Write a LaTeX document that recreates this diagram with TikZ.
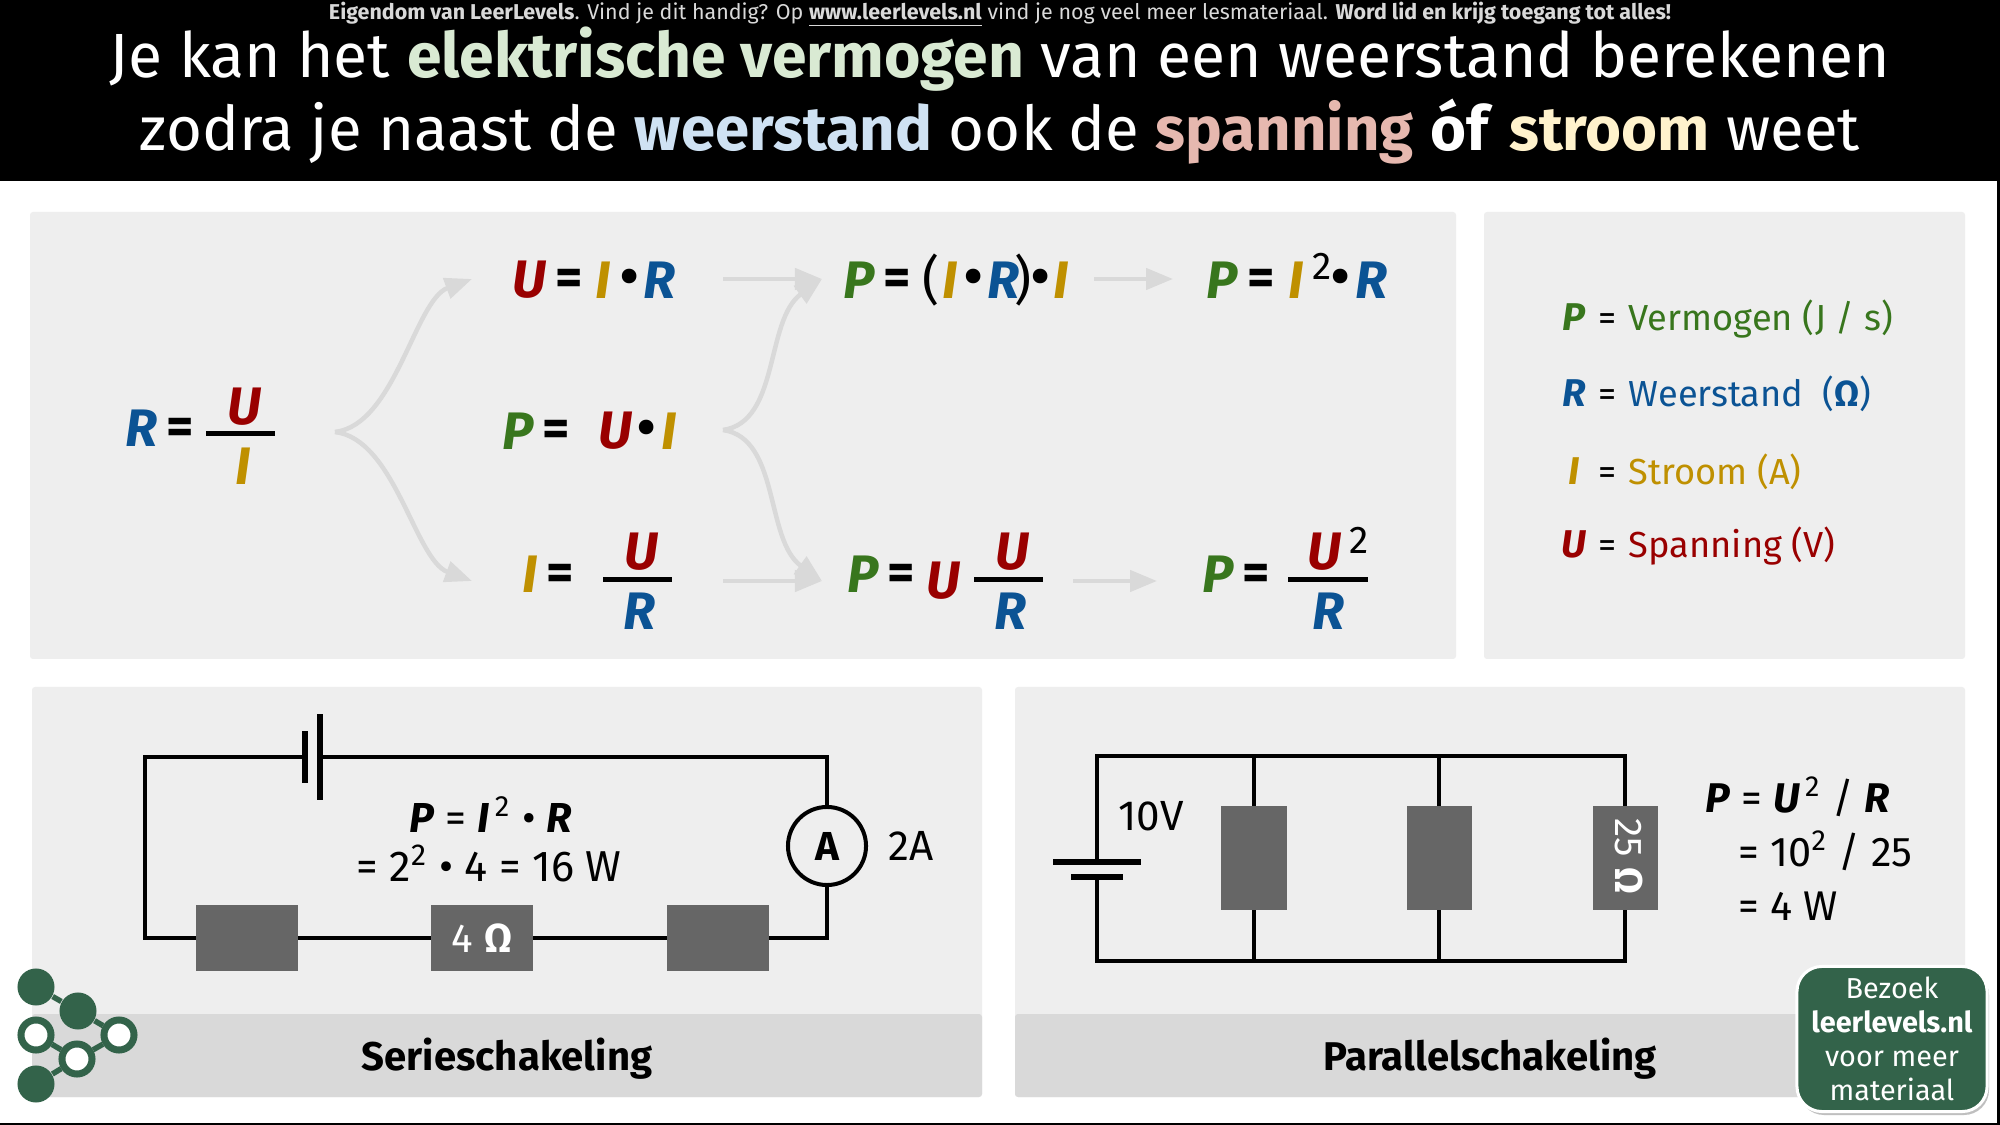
\documentclass[tikz,border=0pt]{standalone}
\usepackage{fontspec}
\setmainfont{Fira Sans}
\usetikzlibrary{arrows.meta}
\definecolor{vermogen}{HTML}{38761D}
\definecolor{weerstand}{HTML}{0B5394}
\definecolor{stroom}{HTML}{BF9000}
\definecolor{spanning}{HTML}{990000}
\definecolor{paneel}{HTML}{EEEEEE}
\definecolor{band}{HTML}{D9D9D9}
\definecolor{blok}{HTML}{666666}
\definecolor{logo}{HTML}{33634A}
\newcommand{\varP}{\textcolor{vermogen}{\textbf{\textit{P}}}}
\newcommand{\varR}{\textcolor{weerstand}{\textbf{\textit{R}}}}
\newcommand{\varI}{\textcolor{stroom}{\textbf{\textit{I}}}}
\newcommand{\varU}{\textcolor{spanning}{\textbf{\textit{U}}}}
\newcommand{\pxfont}[1]{\fontsize{#1}{#1}\selectfont}
\begin{document}
\begin{tikzpicture}[
    x=0.01cm, y=-0.01cm,
    panel_style/.style={fill=paneel, rounded corners=0.03cm},
    band_style/.style={fill=band, rounded corners=0.03cm},
    eq_style/.style={inner sep=0, font=\pxfont{15}\bfseries},
    exp_style/.style={inner sep=0, font=\pxfont{11}},
    bar_style/.style={draw=black, line width=0.05cm},
    arrow_style/.style={draw=band, line width=0.045cm, -{Triangle[length=0.27cm,width=0.21cm]}},
    wire_style/.style={draw=black, line width=0.04cm},
    res_style/.style={fill=blok, inner sep=0, outer sep=0, text=white, font=\pxfont{11.5}},
    plate_style/.style={fill=black, inner sep=0, outer sep=0},
    calc_style/.style={inner sep=0, anchor=base west, font=\pxfont{11.8}},
    legend_style/.style={inner sep=0, anchor=base west, font=\pxfont{10.3}},
    caption_style/.style={inner sep=0, anchor=base, font=\pxfont{11.4}\bfseries},
    dot_full/.style={circle, fill=logo, minimum size=0.37cm, inner sep=0},
    dot_open/.style={circle, draw=logo, fill=white, line width=0.07cm, minimum size=0.30cm, inner sep=0},
    link_style/.style={draw=logo, line width=0.055cm}
  ]
  \useasboundingbox (0,0) rectangle (2000,1125);
  \fill[white] (0,0) rectangle (2000,1125);

  % 1. header
  \fill[black] (0,0) rectangle (2000,181);
  \fill[black] (1997,181) rectangle (2000,1125);
  \fill[black] (0,1123) rectangle (2000,1125);
  \node[inner sep=0, anchor=base, text=band, font=\pxfont{6.1}] (kop) at (1000,20) {\textbf{Eigendom van LeerLevels}. Vind je dit handig? Op \textbf{\underline{www.leerlevels.nl}} vind je nog veel meer lesmateriaal. \textbf{Word lid en krijg toegang tot alles!}};
  \node[inner sep=0, anchor=base, text=white, font=\pxfont{17.75}] (titelA) at (1000,78) {Je kan het \textbf{\textcolor[HTML]{D9EAD3}{elektrische vermogen}} van een weerstand berekenen};
  \node[inner sep=0, anchor=base, text=white, font=\pxfont{17.55}] (titelB) at (1000,151) {zodra je naast de \textbf{\textcolor[HTML]{CFE2F3}{weerstand}} ook de \textbf{\textcolor[HTML]{E6B8AF}{spanning}} \textbf{óf} \textbf{\textcolor[HTML]{FFF2CC}{stroom}} weet};

  % 2. panels
  \fill[panel_style] (30,212) rectangle (1456,659);
  \fill[panel_style] (1484,212) rectangle (1965,659);
  \fill[panel_style] (32,687) rectangle (982,1097);
  \fill[panel_style] (1015,687) rectangle (1965,1097);
  \fill[band_style] (32,1014) rectangle (982,1097);
  \fill[band_style] (1015,1014) rectangle (1965,1097);

  % 3. formulas, left column
  \node[eq_style] (rR) at (142,428) {\varR};
  \node[eq_style] (rEq) at (180,431) {=};
  \node[eq_style] (rU) at (245,407) {\varU};
  \node[eq_style] (rI) at (243,466) {\varI};
  \draw[bar_style] (206,434) -- (275,434);

  % 4. formulas, middle column
  \node[eq_style] (uU) at (530,280) {\varU};
  \node[eq_style] (uEq) at (569,282) {=};
  \node[eq_style] (uI) at (603,280) {\varI};
  \node[eq_style] (uDot) at (630,282) {•};
  \node[eq_style] (uR) at (660,280) {\varR};

  \node[eq_style] (pP) at (518,431) {\varP};
  \node[eq_style] (pEq) at (556,433) {=};
  \node[eq_style] (pU) at (616,431) {\varU};
  \node[eq_style] (pDot) at (647,433) {•};
  \node[eq_style] (pI) at (669,431) {\varI};

  \node[eq_style] (iI) at (530,574) {\varI};
  \node[eq_style] (iEq) at (560,577) {=};
  \node[eq_style] (iU) at (642,552) {\varU};
  \node[eq_style] (iR) at (640,611) {\varR};
  \draw[bar_style] (603,580) -- (672,580);

  % 5. formulas, right columns
  \node[eq_style] (aP) at (859,280) {\varP};
  \node[eq_style] (aEq) at (897,282) {=};
  \node[inner sep=0, font=\pxfont{15}] (aOpen) at (931,280) {(};
  \node[eq_style] (aI) at (950,280) {\varI};
  \node[eq_style] (aDot) at (974,282) {•};
  \node[eq_style] (aR) at (1003,280) {\varR};
  \node[inner sep=0, font=\pxfont{15}] (aClose) at (1023,280) {)};
  \node[eq_style] (aDotB) at (1041,282) {•};
  \node[eq_style] (aIB) at (1061,280) {\varI};

  \node[eq_style] (bP) at (1222,280) {\varP};
  \node[eq_style] (bEq) at (1261,282) {=};
  \node[eq_style] (bI) at (1296,280) {\varI};
  \node[exp_style] (bExp) at (1322,266) {2};
  \node[eq_style] (bDot) at (1341,282) {•};
  \node[eq_style] (bR) at (1371,280) {\varR};

  \node[eq_style] (cP) at (863,574) {\varP};
  \node[eq_style] (cEq) at (901,577) {=};
  \node[eq_style] (cUA) at (944,581) {\varU};
  \node[eq_style] (cU) at (1013,552) {\varU};
  \node[eq_style] (cR) at (1010,611) {\varR};
  \draw[bar_style] (974,580) -- (1043,580);

  \node[eq_style] (dP) at (1218,574) {\varP};
  \node[eq_style] (dEq) at (1256,577) {=};
  \node[eq_style] (dU) at (1325,552) {\varU};
  \node[exp_style] (dExp) at (1359,540) {2};
  \node[eq_style] (dR) at (1328,611) {\varR};
  \draw[bar_style] (1288,580) -- (1368,580);

  % 6. arrows between the formulas
  \coordinate (splitA) at (335,432);
  \coordinate (splitB) at (723,430);
  \coordinate (tipUp) at (472,279);
  \coordinate (tipDown) at (472,581);
  \coordinate (tipA) at (822,279);
  \coordinate (tipC) at (822,581);
  \coordinate (startU) at (723,279);
  \coordinate (startI) at (723,581);
  \coordinate (startA) at (1094,279);
  \coordinate (endA) at (1173,279);
  \coordinate (startC) at (1073,581);
  \coordinate (endC) at (1157,581);
  \draw[arrow_style] (splitA) .. controls (395,425) and (415,300) .. (tipUp);
  \draw[arrow_style] (splitA) .. controls (395,439) and (415,560) .. (tipDown);
  \draw[arrow_style] (splitB) .. controls (780,422) and (765,320) .. (tipA);
  \draw[arrow_style] (splitB) .. controls (780,438) and (765,540) .. (tipC);
  \draw[arrow_style] (startU) -- (tipA);
  \draw[arrow_style] (startI) -- (tipC);
  \draw[arrow_style] (startA) -- (endA);
  \draw[arrow_style] (startC) -- (endC);

  % 7. legend
  \node[inner sep=0, anchor=base, font=\pxfont{11}\bfseries] (lP) at (1574,331) {\varP};
  \node[inner sep=0, anchor=base, font=\pxfont{11}\bfseries] (lR) at (1574,407) {\varR};
  \node[inner sep=0, anchor=base, font=\pxfont{11}\bfseries] (lI) at (1574,485) {\varI};
  \node[inner sep=0, anchor=base, font=\pxfont{11}\bfseries] (lU) at (1574,558) {\varU};
  \node[inner sep=0, anchor=base, font=\pxfont{10.3}] (lPEq) at (1608,331) {=};
  \node[inner sep=0, anchor=base, font=\pxfont{10.3}] (lREq) at (1608,407) {=};
  \node[inner sep=0, anchor=base, font=\pxfont{10.3}] (lIEq) at (1608,485) {=};
  \node[inner sep=0, anchor=base, font=\pxfont{10.3}] (lUEq) at (1608,558) {=};
  \node[legend_style, text=vermogen] (lPText) at (1628,331) {Vermogen (J / s)};
  \node[legend_style, text=weerstand] (lRText) at (1628,407) {Weerstand\ \ (\textbf{Ω})};
  \node[legend_style, text=stroom] (lIText) at (1628,485) {Stroom (A)};
  \node[legend_style, text=spanning] (lUText) at (1628,558) {Spanning (V)};

  % 8. series circuit
  \coordinate (sTL) at (145,757);
  \coordinate (sTR) at (827,757);
  \coordinate (sBL) at (145,938);
  \coordinate (sBR) at (827,938);
  \node[plate_style, minimum width=0.055cm, minimum height=0.51cm] (sPlateA) at (305,757) {};
  \node[plate_style, minimum width=0.055cm, minimum height=0.86cm] (sPlateB) at (320,757) {};
  \node[res_style, minimum width=1.02cm, minimum height=0.65cm] (sRes1) at (247,938) {};
  \node[res_style, minimum width=1.02cm, minimum height=0.65cm] (sRes2) at (482,938) {4 \textbf{Ω}};
  \node[res_style, minimum width=1.02cm, minimum height=0.65cm] (sRes3) at (718,938) {};
  \node[circle, draw=black, line width=0.04cm, minimum size=0.78cm, inner sep=0, font=\pxfont{11.5}\bfseries] (sAmp) at (827,846) {A};
  \draw[wire_style] (sPlateA) -- (sTL) -- (sBL) -- (sRes1);
  \draw[wire_style] (sRes1) -- (sRes2);
  \draw[wire_style] (sRes2) -- (sRes3);
  \draw[wire_style] (sRes3) -- (sBR) -- (sAmp);
  \draw[wire_style] (sAmp) -- (sTR) -- (sPlateB);
  \node[inner sep=0, anchor=base, font=\pxfont{12}] (sAmpText) at (911,860) {2A};
  \node[inner sep=0, anchor=base, font=\pxfont{11.9}] (sCalcA) at (491,832) {\textbf{\textit{P}} = \textbf{\textit{I}}\textsuperscript{\,2} • \textbf{\textit{R}}};
  \node[inner sep=0, anchor=base, font=\pxfont{12.3}] (sCalcB) at (489,881) {= 2\textsuperscript{2} • 4 = 16 W};
  \node[caption_style] (sCaption) at (507,1070) {Serieschakeling};

  % 9. parallel circuit
  \coordinate (pTL) at (1097,756);
  \coordinate (pTR) at (1625,756);
  \coordinate (pBL) at (1097,961);
  \coordinate (pBR) at (1625,961);
  \coordinate (pTA) at (1254,756);
  \coordinate (pBA) at (1254,961);
  \coordinate (pTB) at (1439,756);
  \coordinate (pBB) at (1439,961);
  \node[plate_style, minimum width=0.87cm, minimum height=0.06cm] (pPlateA) at (1097,862) {};
  \node[plate_style, minimum width=0.52cm, minimum height=0.06cm] (pPlateB) at (1097,877) {};
  \node[res_style, minimum width=0.65cm, minimum height=1.03cm] (pRes1) at (1254,858) {};
  \node[res_style, minimum width=0.65cm, minimum height=1.03cm] (pRes2) at (1439,858) {};
  \node[res_style, minimum width=0.65cm, minimum height=1.03cm] (pRes3) at (1625,858) {};
  \node[inner sep=0, rotate=-90, text=white, font=\pxfont{11}] (pResText) at (1629,856) {25 \textbf{Ω}};
  \draw[wire_style] (pPlateA) -- (pTL) -- (pTR) -- (pRes3);
  \draw[wire_style] (pPlateB) -- (pBL) -- (pBR) -- (pRes3);
  \draw[wire_style] (pTA) -- (pRes1);
  \draw[wire_style] (pBA) -- (pRes1);
  \draw[wire_style] (pTB) -- (pRes2);
  \draw[wire_style] (pBB) -- (pRes2);
  \node[inner sep=0, anchor=base, font=\pxfont{12}] (pVolt) at (1151,830) {10V};
  \node[calc_style] (pCalcA) at (1705,812) {\textbf{\textit{P}} = \textbf{\textit{U}}\textsuperscript{\,2} / \textbf{\textit{R}}};
  \node[calc_style] (pCalcB) at (1738,866) {= 10\textsuperscript{2} / 25};
  \node[calc_style] (pCalcC) at (1738,920) {= 4 W};
  \node[caption_style] (pCaption) at (1490,1070) {Parallelschakeling};

  % 10. badge
  \fill[black!25, rounded corners=0.25cm] (1799,970) rectangle (1989,1115);
  \node[fill=logo, draw=white, line width=0.03cm, rounded corners=0.25cm, minimum width=1.9cm, minimum height=1.45cm, inner sep=0, text=white, align=center, font=\fontsize{8.2}{9.7}\selectfont] (badge) at (1892,1039) {Bezoek\\\textbf{leerlevels.nl}\\voor meer\\materiaal};

  % 11. logo
  \node[dot_full] (dotA) at (36,987) {};
  \node[dot_full] (dotB) at (78,1011) {};
  \node[dot_open] (dotC) at (36,1035) {};
  \node[dot_open] (dotD) at (119,1035) {};
  \node[dot_open] (dotE) at (77,1059) {};
  \node[dot_full] (dotF) at (36,1084) {};
  \draw[link_style] (dotA) -- (dotB);
  \draw[link_style] (dotB) -- (dotD);
  \draw[link_style] (dotC) -- (dotE);
  \draw[link_style] (dotD) -- (dotE);
  \draw[link_style] (dotE) -- (dotF);
\end{tikzpicture}
\end{document}
